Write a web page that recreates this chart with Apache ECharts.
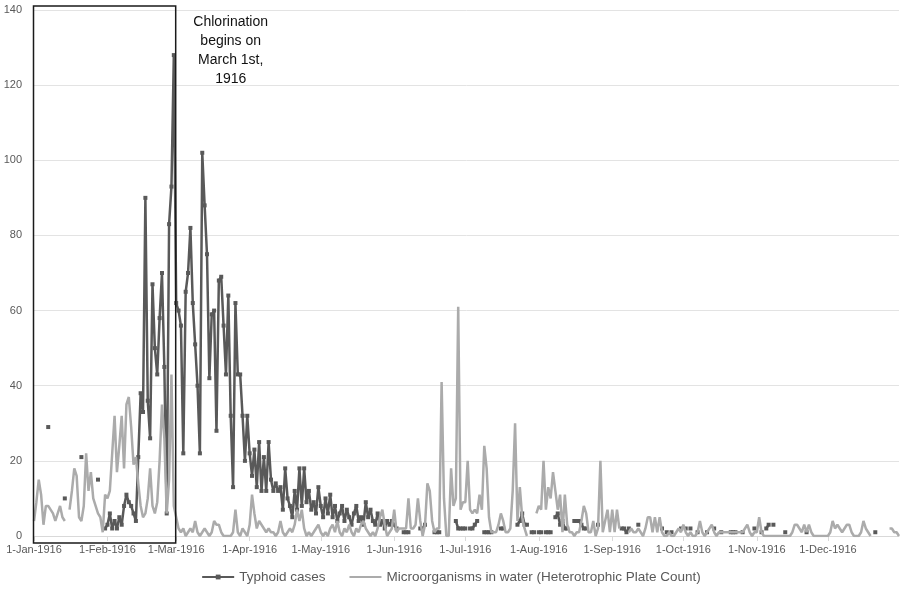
<!DOCTYPE html>
<html>
<head>
<meta charset="utf-8">
<script src="https://cdn.jsdelivr.net/npm/echarts@6/dist/echarts.min.js"></script>
<style>
  html, body { margin: 0; padding: 0; background: #ffffff; }
  #chart { width: 902px; height: 590px; }
</style>
</head>
<body>
<div id="chart"></div>
<script>
// ---------- categories / tick labels ----------
const monthNames = ['Jan','Feb','Mar','Apr','May','Jun','Jul','Aug','Sep','Oct','Nov','Dec'];
const monthDays = [31,29,31,30,31,30,31,31,30,31,30,31];
const tickLabels = ['1-Jan-1916','1-Feb-1916','1-Mar-1916','1-Apr-1916','1-May-1916','1-Jun-1916',
                    '1-Jul-1916','1-Aug-1916','1-Sep-1916','1-Oct-1916','1-Nov-1916','1-Dec-1916'];
const yTicks = [0, 20, 40, 60, 80, 100, 120, 140];

// ---------- Typhoid cases (daily, null = no report) ----------
const typhoidJan = [null,null,null,null,null,null,29, null,null,null,null,null,null,10,
                    null,null,null,null,null,null,21, null,null,null,null,null,null,15, null,null,2];
const typhoidFeb = [3,6,2,4,2,5,3,8,11,9,8,6,4,21,38,33,90,36,26,67,50,43,58,70,45,6,83,93,128];
const typhoidMar = [62,60,56,22,65,70,82,62,51,40,22,102,88,75,42,59,60,28,68,69,56,43,64,32,13,62,43,43,32,20,32];
const typhoidApr = [22,16,23,13,25,12,21,12,25,15,12,14,12,13,7,18,10,8,5,12,7,18,8,18,9,12,7,9,6,13];
const typhoidMay = [8,5,10,6,11,5,8,4,6,8,4,7,5,3,6,8,4,5,3,9,5,7,4,3,6,3,4,2,4,3,4];
const typhoidJun = [3,2,null,null,1,1,1,null,null,null,null,2,2,3,null,null,null,1,1,1,
                    null,null,null,null,null,null,4,2,2,2];
const typhoidJul = [2,null,2,2,3,4,null,null,1,1,1,1,null,null,null,2,2,null,null,null,
                    null,null,3,4,6,3,3,null,1,1,null];
const typhoidAug = [1,1,null,1,1,1,null,5,6,3,4,2,2,null,null,4,4,4,3,2,
                    2,null,null,null,null,3,null,null,null,null,null];
const typhoidSep = [null,null,null,null,2,2,1,2,null,null,null,3,null,null,null,null,null,null,null,null,
                    null,2,null,1,null,1,null,null,null,2];
const typhoidOct = [null,2,null,2,null,null,1,null,null,null,1,null,null,2,null,null,1,null,null,null,
                    1,1,1,null,null,1,null,null,null,null,2];
const typhoidNov = [null,null,1,null,2,3,null,3,null,null,null,null,1,null,null,null,null,null,null,null,
                    null,1,null,null,null,null,null,null,null,null];
const typhoidDec = [null,null,null,null,null,null,null,null,null,null,null,null,null,null,null,null,null,null,null,null,
                    1,null,null,null,null,null,null,null,null,null,null];

// ---------- Microorganisms in water (Heterotrophic Plate Count) ----------
const hpcJan = [4,9,15,11,3,8,8,7,6,4,6,8,5,4,null,7,12,18,16,5,4,8,22,12,17,10,8,6,5,1,11];
const hpcFeb = [10,12,22,32,17,24,32,18,35,37,29,19,21,14,8,5,6,10,18,8,6,9,20,35,26,6,15,43,8];
const hpcMar = [5,2,1,2,0,1,2,1,4,1,0,1,2,1,0,1,4,3,3,1,0,0,0,0,1,7,1,0,2,1,0];
const hpcApr = [3,11,6,2,4,3,2,1,2,1,1,0,1,4,1,0,1,2,1,3,7,4,7,2,0,1,0,1,2,3];
const hpcMay = [1,0,1,0,2,3,1,4,1,0,2,1,3,1,0,2,1,3,4,2,1,0,1,0,2,5,7,3,0,1,2];
const hpcJun = [7,1,2,2,2,2,10,2,2,3,10,4,0,3,14,12,4,1,2,2,41,10,0,0,18,8,10,61,7,9];
const hpcJul = [9,20,7,6,7,6,11,7,24,18,5,1,1,1,3,6,4,1,1,2,12,30,4,13,5,2,0,null,null,null,6];
const hpcAug = [8,7,20,7,13,10,17,12,7,11,1,11,3,1,1,0,1,1,4,8,6,1,1,4,0,2,20,1,4,7,1];
const hpcSep = [7,1,7,2,null,null,null,1,2,1,1,2,1,0,2,5,5,1,5,1,5,1,0,0,1,0,0,1,2,1];
const hpcOct = [3,1,0,1,0,0,1,4,1,0,1,2,3,1,0,1,1,1,1,1,1,1,1,1,1,1,2,3,1,0,1];
const hpcNov = [1,5,1,0,0,0,0,0,0,0,0,0,0,0,0,1,3,3,2,1,3,1,3,1,0,0,0,0,0,0];
const hpcDec = [0,1,4,2,3,2,1,2,3,3,1,0,0,0,1,4,2,1,0,null,null,null,null,null,null,null,2,2,1,1,0];

// ---------- build ----------
const categories = [];
monthNames.forEach((m, i) => {
  for (let d = 1; d <= monthDays[i]; d++) categories.push(d + '-' + m + '-1916');
});
const typhoid = [].concat(typhoidJan, typhoidFeb, typhoidMar, typhoidApr, typhoidMay, typhoidJun,
                          typhoidJul, typhoidAug, typhoidSep, typhoidOct, typhoidNov, typhoidDec);
const hpc = [].concat(hpcJan, hpcFeb, hpcMar, hpcApr, hpcMay, hpcJun,
                      hpcJul, hpcAug, hpcSep, hpcOct, hpcNov, hpcDec);

const FONT = '"Liberation Sans", Arial, sans-serif';
const chart = echarts.init(document.getElementById('chart'), null, { renderer: 'canvas' });
const isTick = (idx, val) => tickLabels.indexOf(val) >= 0;

chart.setOption({
  animation: false,
  backgroundColor: '#ffffff',
  textStyle: { fontFamily: FONT },
  grid: { left: 34, right: 3, top: 10, bottom: 54, containLabel: false },
  legend: {
    bottom: 1,
    left: 'center',
    itemWidth: 32,
    itemHeight: 6,
    itemGap: 23,
    textStyle: { color: '#595959', fontSize: 13.5, fontFamily: FONT },
    data: [
      { name: 'Typhoid cases' },
      { name: 'Microorganisms in water (Heterotrophic Plate Count)', itemStyle: { opacity: 0 } }
    ]
  },
  xAxis: {
    type: 'category',
    data: categories,
    boundaryGap: false,
    axisLine: { lineStyle: { color: '#d9d9d9', width: 1 } },
    axisTick: { show: true, interval: isTick, length: 5, lineStyle: { color: '#d9d9d9' } },
    axisLabel: { interval: isTick, color: '#595959', fontSize: 11, margin: 8, fontFamily: FONT },
    splitLine: { show: false }
  },
  yAxis: {
    type: 'value',
    min: yTicks[0],
    max: yTicks[yTicks.length - 1],
    interval: 20,
    axisLine: { show: false },
    axisTick: { show: false },
    axisLabel: { color: '#595959', fontSize: 11, margin: 12, fontFamily: FONT },
    splitLine: { lineStyle: { color: '#e3e3e3', width: 1 } }
  },
  series: [
    {
      name: 'Typhoid cases',
      type: 'line',
      data: typhoid,
      connectNulls: false,
      symbol: 'rect',
      symbolSize: 4,
      showSymbol: true,
      showAllSymbol: true,
      lineStyle: { color: '#595959', width: 2.5 },
      itemStyle: { color: '#595959' },
      z: 2
    },
    {
      name: 'Microorganisms in water (Heterotrophic Plate Count)',
      type: 'line',
      data: hpc,
      connectNulls: false,
      showSymbol: false,
      symbol: 'none',
      lineStyle: { color: '#ababab', width: 2.5 },
      itemStyle: { color: '#ababab' },
      z: 3
    }
  ]
});

// Rectangle around the pre-chlorination period, placed through the axes' scales
const p0 = chart.convertToPixel({ xAxisIndex: 0, yAxisIndex: 0 }, ['1-Jan-1916', 0]);
const p1 = chart.convertToPixel({ xAxisIndex: 0, yAxisIndex: 0 }, ['1-Mar-1916', 140]);
const pText = chart.convertToPixel({ xAxisIndex: 0, yAxisIndex: 0 }, ['24-Mar-1916', 140]);
chart.setOption({
  graphic: [
    {
      type: 'rect',
      shape: { x: p0[0] - 0.5, y: p1[1] - 4, width: p1[0] - p0[0], height: (p0[1] + 7) - (p1[1] - 4) },
      style: { fill: 'none', stroke: '#1a1a1a', lineWidth: 1.5 },
      z: 10
    },
    {
      type: 'text',
      x: pText[0],
      y: p1[1] + 3,
      style: {
        text: 'Chlorination\nbegins on\nMarch 1st,\n1916',
        fill: '#111111',
        font: '14px ' + FONT,
        lineHeight: 19,
        align: 'center',
        verticalAlign: 'top'
      },
      z: 10
    }
  ]
});
</script>
</body>
</html>
